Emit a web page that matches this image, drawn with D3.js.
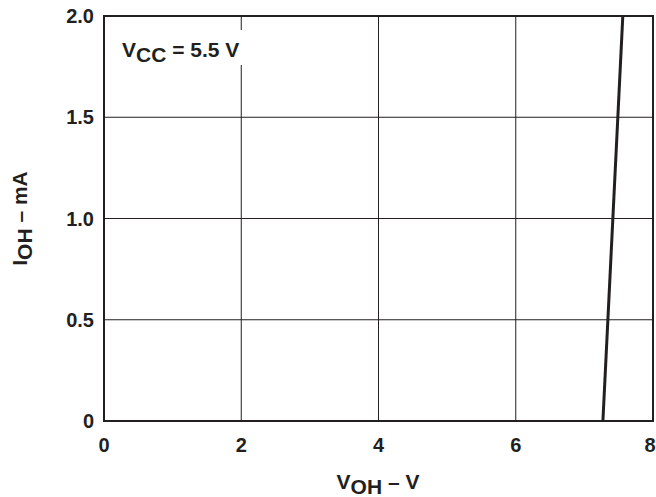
<!DOCTYPE html>
<html>
<head>
<script src="https://d3js.org/d3.v7.min.js"></script>
<style>
body { margin: 0; background: #fff; }
text { font-family: Arial, "Liberation Sans", sans-serif; font-weight: bold; fill: #231f20; }
</style>
</head>
<body>
<svg width="656" height="497"></svg>
<script>
// V_OH (V) vs I_OH (mA), Vcc = 5.5 V
const voh = [7.27, 7.56];
const ioh = [0, 2.0];
const xTicks = [0, 2, 4, 6, 8];
const yTicks = [0, 0.5, 1.0, 1.5, 2.0];
const yTickLabels = ["0", "0.5", "1.0", "1.5", "2.0"];

var svg = d3.select("svg"),
    pLeft = 104, pRight = 653, pTop = 16, pBottom = 421;

var x = d3.scaleLinear().domain([0, 8]).range([pLeft, pRight]);
var y = d3.scaleLinear().domain([0, 2]).range([pBottom, pTop]);

var ink = "#231f20";

// grid
svg.append("g").selectAll("line")
    .data(xTicks.slice(1, -1))
    .enter().append("line")
    .attr("x1", d => x(d)).attr("x2", d => x(d))
    .attr("y1", pTop).attr("y2", pBottom)
    .attr("stroke", ink).attr("stroke-width", 1);

svg.append("g").selectAll("line")
    .data(yTicks.slice(1, -1))
    .enter().append("line")
    .attr("x1", pLeft).attr("x2", pRight)
    .attr("y1", d => y(d)).attr("y2", d => y(d))
    .attr("stroke", ink).attr("stroke-width", 1);

// label box over grid
svg.append("rect")
    .attr("x", 112).attr("y", 30)
    .attr("width", 131).attr("height", 35)
    .attr("fill", "#fff");

var lab = svg.append("text").attr("x", 122).attr("y", 57).attr("font-size", 21);
lab.append("tspan").text("V");
lab.append("tspan").attr("dy", 5).text("CC");
lab.append("tspan").attr("dy", -5).text(" = 5.5 V");

// frame
svg.append("rect")
    .attr("x", pLeft).attr("y", pTop)
    .attr("width", pRight - pLeft).attr("height", pBottom - pTop)
    .attr("fill", "none").attr("stroke", ink).attr("stroke-width", 2);

// curve
var line = d3.line().x((d, i) => x(voh[i])).y(d => y(d));
svg.append("path")
    .datum(ioh)
    .attr("d", line)
    .attr("fill", "none").attr("stroke", ink).attr("stroke-width", 3);

// tick labels
svg.append("g").selectAll("text")
    .data(xTicks)
    .enter().append("text")
    .attr("x", d => Math.min(x(d), 650)).attr("y", 452)
    .attr("text-anchor", "middle").attr("font-size", 20)
    .text(d => d);

svg.append("g").selectAll("text")
    .data(yTicks)
    .enter().append("text")
    .attr("x", pLeft - 10).attr("y", d => y(d) + 7)
    .attr("text-anchor", "end").attr("font-size", 20)
    .text((d, i) => yTickLabels[i]);

// axis titles
var xt = svg.append("text").attr("x", 378).attr("y", 489)
    .attr("text-anchor", "middle").attr("font-size", 21);
xt.append("tspan").text("V");
xt.append("tspan").attr("dy", 5).text("OH");
xt.append("tspan").attr("dy", -5).text(" – V");

var yt = svg.append("text")
    .attr("transform", "translate(27," + ((pTop + pBottom) / 2) + ") rotate(-90)")
    .attr("text-anchor", "middle").attr("font-size", 21);
yt.append("tspan").text("I");
yt.append("tspan").attr("dy", 5).text("OH");
yt.append("tspan").attr("dy", -5).text(" – mA");
</script>
</body>
</html>
